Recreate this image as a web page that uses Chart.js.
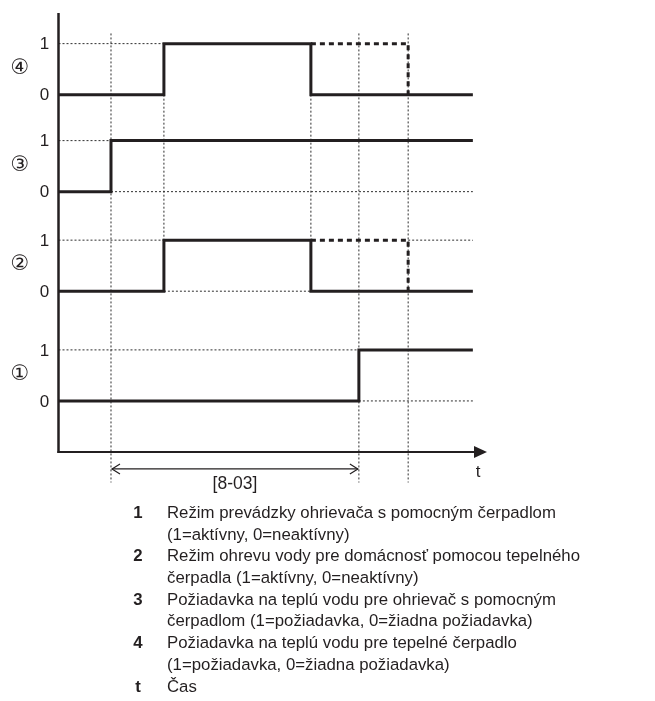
<!DOCTYPE html>
<html>
<head>
<meta charset="utf-8">
<script src="https://cdn.jsdelivr.net/npm/chart.js@4/dist/chart.umd.min.js"></script>
<style>
  html, body { margin: 0; padding: 0; background: #fff; }
  #wrap { position: relative; width: 655px; height: 701px; }
  #chart { position: absolute; left: 0; top: 0; }
  #legend {
    position: absolute; left: 0; top: 502px; width: 655px;
    font-family: "Liberation Sans", Arial, sans-serif; font-size: 16.8px; color: #231f20;
  }
  #legend .row { position: relative; height: 21.7px; line-height: 21.7px; white-space: nowrap; }
  #legend .num { position: absolute; left: 128px; width: 20px; text-align: center; font-weight: bold; }
  #legend .txt { position: absolute; left: 167px; }
</style>
</head>
<body>
<div id="wrap">
  <canvas id="chart" width="655" height="701"></canvas>
  <div id="legend"></div>
</div>
<script>
// time marks: start, t1 .. t5, end of trace
const times = [0, 12.25, 24.6, 58.9, 70.1, 81.6, 96.7];

// signal state at each time mark (step happens at the mark)
const sig1 = [0, 0, 0, 0, 1, 1, 1];
const sig2 = [0, 0, 1, 0, 0, 0, 0];
const sig3 = [0, 1, 1, 1, 1, 1, 1];
const sig4 = [0, 0, 1, 0, 0, 0, 0];

// alternative (dashed) continuation for 2 and 4
const sig2Alt = [null, null, null, 1, 1, 0, null];
const sig4Alt = [null, null, null, 1, 1, 0, null];

const laneNames = ['①', '②', '③', '④'];
const levelLabels = ['0', '1'];
const rangeLabel = '[8-03]';
const axisLabel = 't';

const legendKeys = ['1', '2', '3', '4', 't'];
const legendTexts = [
  ['Režim prevádzky ohrievača s pomocným čerpadlom', '(1=aktívny, 0=neaktívny)'],
  ['Režim ohrevu vody pre domácnosť pomocou tepelného', 'čerpadla (1=aktívny, 0=neaktívny)'],
  ['Požiadavka na teplú vodu pre ohrievač s pomocným', 'čerpadlom (1=požiadavka, 0=žiadna požiadavka)'],
  ['Požiadavka na teplú vodu pre tepelné čerpadlo', '(1=požiadavka, 0=žiadna požiadavka)'],
  ['Čas'],
];

// layout: y value of the 0 level of each lane (lane height = 1)
const LANE_ZERO = [1.0, 3.15, 5.1, 7.0];
const Y_MIN = -0.6, Y_MAX = 8.6, GUIDE_TOP = 8.2;
const INK = '#231f20';
const GUIDE = '#2e2e2e';

function trace(lane, vals, dashed) {
  const pts = [];
  vals.forEach((v, i) => {
    pts.push(v === null ? { x: times[i], y: null } : { x: times[i], y: LANE_ZERO[lane] + v });
  });
  return {
    data: pts, stepped: 'before', borderColor: INK, borderWidth: 3,
    borderDash: dashed ? [5, 4] : [], spanGaps: false, order: 0,
    borderJoinStyle: 'miter', borderCapStyle: 'butt', clip: false,
  };
}

function guide(x1, y1, x2, y2) {
  return {
    data: [{ x: x1, y: y1 }, { x: x2, y: y2 }], borderColor: GUIDE, borderWidth: 1,
    borderDash: [2, 2], order: 5, clip: false,
  };
}

const T = times, end = times.length - 1;
const guides = [
  // vertical
  guide(T[1], GUIDE_TOP, T[1], Y_MIN),
  guide(T[4], GUIDE_TOP, T[4], Y_MIN),
  guide(T[5], GUIDE_TOP, T[5], Y_MIN),
  guide(T[2], LANE_ZERO[3], T[2], LANE_ZERO[1] + 1),
  guide(T[3], LANE_ZERO[3], T[3], LANE_ZERO[1] + 1),
  // horizontal
  guide(0, LANE_ZERO[3] + 1, T[2], LANE_ZERO[3] + 1),
  guide(0, LANE_ZERO[2] + 1, T[1], LANE_ZERO[2] + 1),
  guide(T[1], LANE_ZERO[2], T[end], LANE_ZERO[2]),
  guide(0, LANE_ZERO[1] + 1, T[2], LANE_ZERO[1] + 1),
  guide(T[5], LANE_ZERO[1] + 1, T[end], LANE_ZERO[1] + 1),
  guide(T[2], LANE_ZERO[1], T[3], LANE_ZERO[1]),
  guide(0, LANE_ZERO[0] + 1, T[4], LANE_ZERO[0] + 1),
  guide(T[4], LANE_ZERO[0], T[end], LANE_ZERO[0]),
];

const datasets = [
  trace(0, sig1), trace(1, sig2), trace(2, sig3), trace(3, sig4),
  trace(1, sig2Alt, true), trace(3, sig4Alt, true),
  ...guides,
];

const decor = {
  id: 'decor',
  afterDraw(chart) {
    const ctx = chart.ctx;
    const xs = chart.scales.x, ys = chart.scales.y;
    const x0 = xs.getPixelForValue(0), y0 = ys.getPixelForValue(0);
    const xEnd = xs.getPixelForValue(100);
    ctx.save();
    ctx.strokeStyle = INK; ctx.fillStyle = INK;
    // y axis
    ctx.lineWidth = 2.5;
    ctx.beginPath(); ctx.moveTo(x0, ys.getPixelForValue(Y_MAX)); ctx.lineTo(x0, y0 + 1); ctx.stroke();
    // x axis with arrow
    ctx.lineWidth = 2;
    ctx.beginPath(); ctx.moveTo(x0 - 1, y0); ctx.lineTo(xEnd - 10, y0); ctx.stroke();
    ctx.beginPath(); ctx.moveTo(xEnd, y0); ctx.lineTo(xEnd - 13, y0 - 6); ctx.lineTo(xEnd - 13, y0 + 6);
    ctx.closePath(); ctx.fill();
    // text
    ctx.textBaseline = 'middle'; ctx.textAlign = 'center';
    ctx.font = '17px "Liberation Sans", Arial, sans-serif';
    ctx.fillText(axisLabel, xEnd - 9, y0 + 20);
    LANE_ZERO.forEach((z, i) => {
      ctx.font = '17px "Liberation Sans", Arial, sans-serif';
      levelLabels.forEach((lbl, v) => ctx.fillText(lbl, x0 - 14, ys.getPixelForValue(z + v) + 1));
      ctx.font = '21px "DejaVu Sans", sans-serif';
      ctx.fillText(laneNames[i], 20, ys.getPixelForValue(z + 0.5) - 1);
    });
    // [8-03] span arrow
    const a = xs.getPixelForValue(T[1]) + 1, b = xs.getPixelForValue(T[4]) - 1, ya = y0 + 17;
    ctx.lineWidth = 1.2;
    ctx.beginPath(); ctx.moveTo(a, ya); ctx.lineTo(b, ya); ctx.stroke();
    ctx.beginPath();
    ctx.moveTo(a + 8, ya - 5); ctx.lineTo(a, ya); ctx.lineTo(a + 8, ya + 5);
    ctx.moveTo(b - 8, ya - 5); ctx.lineTo(b, ya); ctx.lineTo(b - 8, ya + 5);
    ctx.stroke();
    ctx.font = '17.5px "Liberation Sans", Arial, sans-serif';
    ctx.fillText(rangeLabel, (a + b) / 2, ya + 15);
    ctx.restore();
  },
};

new Chart(document.getElementById('chart'), {
  type: 'line',
  data: { datasets },
  options: {
    responsive: false,
    animation: false,
    parsing: true,
    layout: { padding: { left: 58.5, right: 168, top: 13, bottom: 218.4 } },
    elements: { point: { radius: 0, hoverRadius: 0 } },
    plugins: { legend: { display: false }, tooltip: { enabled: false } },
    scales: {
      x: { type: 'linear', min: 0, max: 100, display: false },
      y: { type: 'linear', min: Y_MIN, max: Y_MAX, display: false },
    },
  },
  plugins: [decor],
});

const legendEl = document.getElementById('legend');
legendKeys.forEach((k, i) => {
  legendTexts[i].forEach((line, j) => {
    const row = document.createElement('div');
    row.className = 'row';
    row.innerHTML = (j === 0 ? '<span class="num">' + k + '</span>' : '') + '<span class="txt">' + line + '</span>';
    legendEl.appendChild(row);
  });
});
</script>
</body>
</html>
